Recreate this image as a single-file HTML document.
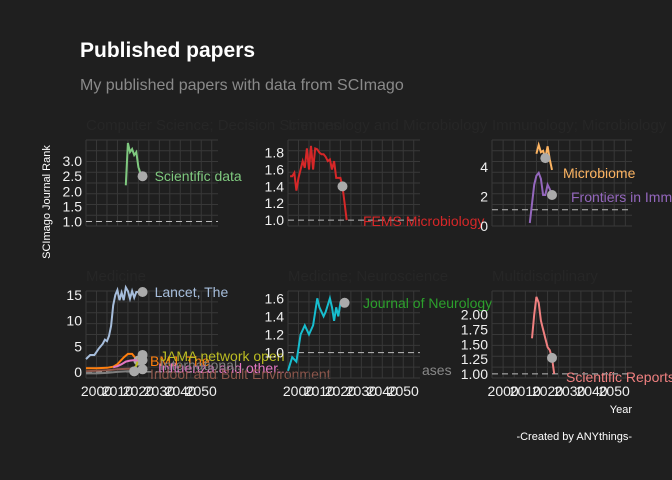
<!DOCTYPE html>
<html><head><meta charset="utf-8"><style>
html,body{margin:0;padding:0;background:#1f1f1f;}
svg{display:block;font-family:"Liberation Sans",sans-serif;}
</style></head><body>
<svg id="c" width="672" height="480" viewBox="0 0 672 480">
<rect width="672" height="480" fill="#1f1f1f"/>
<text x="80" y="57" fill="#ffffff" font-size="21" font-weight="bold">Published papers</text>
<text x="80" y="90" fill="#8a8a8a" font-size="16">My published papers with data from SCImago</text>
<text transform="translate(50,202) rotate(-90)" text-anchor="middle" fill="#ffffff" font-size="11">SCImago Journal Rank</text>
<text x="632" y="413" text-anchor="end" fill="#ffffff" font-size="11">Year</text>
<text x="632" y="440" text-anchor="end" fill="#ffffff" font-size="11">-Created by ANYthings-</text>
<g id="panels"></g>
</svg>
<script>
// x ticks shared
const xTicks = [2000, 2010, 2020, 2030, 2040, 2050];
// Panel 1: Scientific data
const sdYears = [2014,2015,2016,2017,2018,2019,2020,2021,2022];
const sdVals = [2.2,3.6,3.3,3.4,3.2,3.3,2.8,2.6,2.5];
// Panel 2: FEMS Microbiology
const femsYears = [1996,1997,1998,1999,2000,2001,2002,2003,2004,2005,2006,2007,2008,2009,2010,2011,2012,2013,2014,2015,2016,2017,2018,2019,2020,2021,2022,2023];
const femsVals = [1.52,1.52,1.56,1.35,1.5,1.6,1.7,1.62,1.85,1.6,1.88,1.6,1.85,1.84,1.8,1.78,1.78,1.75,1.7,1.72,1.6,1.7,1.5,1.5,1.5,1.4,1.2,1.0];
// Panel 3: Microbiome, Frontiers in Immunology
const micYears = [2015,2016,2017,2018,2019,2020,2021,2022];
const micVals = [4.9,5.5,5.0,5.1,4.6,5.4,4.5,3.8];
const froYears = [2012,2013,2014,2015,2016,2017,2018,2019,2020,2021,2022];
const froVals = [0.2,1.5,2.8,3.4,3.6,3.2,2.1,2.1,2.8,2.5,2.1];
// Panel 4: Medicine
const lanYears = [1995,1997,1999,2001,2003,2004,2005,2006,2007,2008,2009,2010,2011,2012,2013,2014,2015,2016,2017,2018,2019,2022];
const lanVals = [2.5,3.3,3.3,4.5,5.5,6.3,6,7,9,13,15,16,14,15.5,14,16.5,15.8,14.3,15.8,14.5,15.6,15.6];
const bmjYears = [1995,2000,2005,2008,2010,2013,2015,2017,2019,2020];
const bmjVals = [0.7,0.7,0.8,1.0,1.5,2.8,3.5,3.5,2.5,2.2];
const jamaYears = [2018,2019,2020,2021,2022];
const jamaVals = [0.8,1.2,2.5,3.6,3.3];
const infYears = [2008,2010,2012,2014,2016,2018,2020,2022];
const infVals = [0.9,1.1,1.5,2.0,2.2,2.3,2.2,2.3];
const indYears = [1995,2000,2005,2010,2015,2020,2022];
const indVals = [0.1,0.2,0.3,0.5,0.6,0.6,0.5];
const ijeYears = [1995,2000,2005,2010,2015,2018];
const ijeVals = [-0.3,-0.3,-0.2,0,0.1,0.1];
// Panel 5: Journal of Neurology
const neuYears = [1995,1997,1999,2001,2003,2005,2007,2009,2010,2012,2013,2015,2016,2017,2018,2019,2020,2022];
const neuVals = [0.8,0.95,0.9,1.2,1.3,1.2,1.3,1.6,1.5,1.4,1.45,1.6,1.5,1.35,1.5,1.4,1.55,1.55];
// Panel 6: Scientific Reports
const srYears = [2013,2014,2015,2016,2017,2018,2019,2020,2021,2022,2023];
const srVals = [1.6,2.0,2.3,2.2,1.9,1.75,1.6,1.45,1.4,1.27,1.0];

const NS = "http://www.w3.org/2000/svg";
const root = document.getElementById('panels');
function mk(tag, attrs, parent){const e=document.createElementNS(NS,tag);for(const k in attrs)e.setAttribute(k,attrs[k]);(parent||root).appendChild(e);return e;}

const panels = [
 {x0:86,x1:218,y0:140,y1:226,ymin:0.85,ymax:3.7,title:"Computer Science; Decision Sciences",
  yt:[1.0,1.5,2.0,2.5,3.0],ylab:["1.0","1.5","2.0","2.5","3.0"],dash:1.0,showX:false,
  series:[{n:"scientific-data",y:sdYears,v:sdVals,c:"#7fc97f",lab:"Scientific data",pt:8}]},
 {x0:288,x1:420,y0:140,y1:226,ymin:0.93,ymax:1.95,title:"Immunology and Microbiology",
  yt:[1.0,1.2,1.4,1.6,1.8],ylab:["1.0","1.2","1.4","1.6","1.8"],dash:1.0,showX:false,
  series:[{n:"fems-microbiology",y:femsYears,v:femsVals,c:"#d62728",lab:"FEMS Microbiology",pt:25,lx:363,ly:226}]},
 {x0:492,x1:632,y0:140,y1:226,ymin:0,ymax:5.83,title:"Immunology; Microbiology",
  yt:[0,2,4],ylab:["0","2","4"],dash:1.1,showX:false,
  series:[{n:"microbiome",y:micYears,v:micVals,c:"#fdb462",lab:"Microbiome",pt:4,lx:563,ly:178},
          {n:"frontiers-in-immunology",y:froYears,v:froVals,c:"#9467bd",lab:"Frontiers in Immunology",pt:10,lx:571,ly:202}]},
 {x0:86,x1:218,y0:291,y1:378,ymin:-1.2,ymax:15.8,title:"Medicine",
  yt:[0,5,10,15],ylab:["0","5","10","15"],dash:0,showX:true,
  series:[{n:"lancet",y:lanYears,v:lanVals,c:"#a6bddb",lab:"Lancet, The",pt:21},
          {n:"bmj",y:bmjYears,v:bmjVals,c:"#ff7f0e",lab:"BMJ, The",pt:9,lx:150,ly:366},
          {n:"jama-network-open",y:jamaYears,v:jamaVals,c:"#bcbd22",lab:"JAMA network open",pt:4,lx:160,ly:361},
          {n:"influenza",y:infYears,v:infVals,c:"#e377c2",lab:"Influenza and other...",pt:7,lx:158,ly:373},
          {n:"indoor-built-env",y:indYears,v:indVals,c:"#8c564b",lab:"Indoor and Built Environment",pt:6,lx:150,ly:379},
          {n:"international-journal",y:ijeYears,v:ijeVals,c:"#7f7f7f",lab:"International...",pt:5,lx:160,ly:370}]},
 {x0:288,x1:420,y0:291,y1:378,ymin:0.72,ymax:1.68,title:"Medicine; Neuroscience",
  yt:[1.0,1.2,1.4,1.6],ylab:["1.0","1.2","1.4","1.6"],dash:1.0,showX:true,
  series:[{n:"journal-of-neurology",y:neuYears,v:neuVals,c:"#17becf",lab:"Journal of Neurology",pt:17,lc:"#2ca02c",lx:363,ly:308}]},
 {x0:492,x1:632,y0:291,y1:378,ymin:0.93,ymax:2.4,title:"Multidisciplinary",
  yt:[1.0,1.25,1.5,1.75,2.0],ylab:["1.00","1.25","1.50","1.75","2.00"],dash:1.0,showX:true,
  series:[{n:"scientific-reports",y:srYears,v:srVals,c:"#f08080",lab:"Scientific Reports",pt:9,lx:566,ly:382}]}
];
const xmin=1995,xmax=2058;

panels.forEach((p,i)=>{
  const g=mk('g',{});
  
  
  const X=v=>p.x0+(v-xmin)/(xmax-xmin)*(p.x1-p.x0);
  const Y=v=>p.y1-(v-p.ymin)/(p.ymax-p.ymin)*(p.y1-p.y0);
  const t=mk('text',{x:p.x0,y:p.y0-10,fill:"#262626","font-size":15},g);
  t.textContent=p.title;
  
  
  for(let yr=xmin+0.0;yr<=xmax;yr+=5){
    const l=mk('line',{x1:X(yr),x2:X(yr),y1:p.y0,y2:p.y1,stroke:"#383838","stroke-width":1},g);
    
    
  }
  const step=(p.y1-p.y0)/8;
  for(let k=0;k<=8;k++){
    const l=mk('line',{x1:p.x0,x2:p.x1,y1:p.y0+k*step,y2:p.y0+k*step,stroke:"#383838","stroke-width":1},g);
    
    
  }
  p.yt.forEach((v,k)=>{
    const tx=mk('text',{x:p.x0-4,y:Y(v)+5,"text-anchor":"end",fill:"#f0f0f0","font-size":14},g);
    tx.textContent=p.ylab[k];
    
    
  });
  if(p.showX){xTicks.forEach(v=>{
    const tx=mk('text',{x:X(v),y:p.y1+18,"text-anchor":"middle",fill:"#f0f0f0","font-size":14},g);
    tx.textContent=v;
    
    
  });}
  const d=mk('line',{x1:p.x0,x2:p.x1,y1:Y(p.dash),y2:Y(p.dash),stroke:"#bbbbbb","stroke-width":1,"stroke-dasharray":"6,4"},g);
  
  
  p.series.forEach(s=>{
    const pts=s.y.map((yr,k)=>X(yr).toFixed(1)+","+Y(s.v[k]).toFixed(1));
    const pl=mk('polyline',{points:pts.join(" "),fill:"none",stroke:s.c,"stroke-width":2},g);
    
    
    const k=Math.min(s.pt,s.y.length-1);
    const cx=X(s.y[k]),cy=Y(s.v[k]);
    const c=mk('circle',{cx:cx,cy:cy,r:5,fill:"#aaaaaa"},g);
    
    
    const lb=mk('text',{x:s.lx||cx+12,y:s.ly||cy+5,fill:s.lc||s.c,"font-size":14},g);
    lb.textContent=s.lab;
    
    
  });
});
const ex=mk('text',{x:422,y:375,fill:"#888888","font-size":14});
ex.textContent="ases";


</script>
</body></html>
